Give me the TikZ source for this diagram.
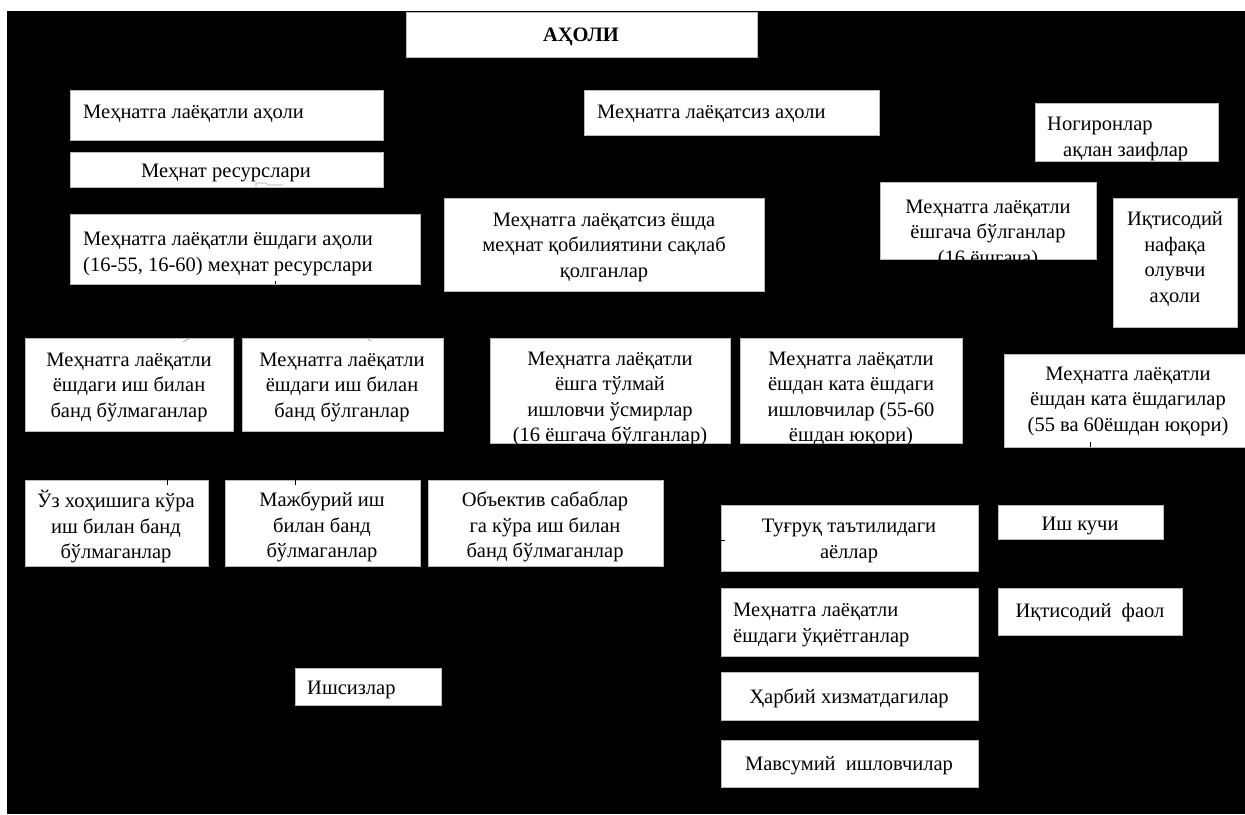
\documentclass[tikz,border=0pt]{standalone}
\usepackage{fontspec}
\setmainfont{Liberation Serif}
\begin{document}
\begin{tikzpicture}[x=1pt,y=-1pt,
  box/.style={draw=gray!55, fill=white, line width=0.7pt, inner sep=0pt, outer sep=0pt},
  txt/.style={font=\fontsize{20.5}{25.5}\selectfont, inner sep=0pt, align=center, text=black, yshift=-4pt},
  tick/.style={draw=black, line width=0.8pt},
  frag/.style={draw=gray!70, line width=0.7pt}]
\useasboundingbox (0,0) rectangle (1245,814);
\fill[white] (0,0) rectangle (1245,814);
\fill[black] (7,11) rectangle (1245,814);
\newcommand\bx[5]{\node[box, anchor=north west, minimum width=#4pt, minimum height=#5pt] (#1) at (#2,#3) {};}
% boxes
\bx{b1}{406}{12}{351}{45}
\bx{b2}{70}{90}{313}{50}
\bx{b3}{70}{152}{313}{35}
\bx{b4}{584}{90}{295}{45}
\bx{b5}{1035}{103}{183}{58}
\bx{b6}{880}{182}{216}{77}
\bx{b7}{1113}{198}{124}{129}
\bx{b8}{70}{214}{350}{70}
\bx{b9}{444}{198}{320}{93}
\bx{b10}{25}{338}{208}{93}
\bx{b11}{242}{338}{201}{93}
\bx{b12}{490}{338}{240}{105}
\bx{b13}{740}{338}{222}{105}
\bx{b14}{1004}{354}{250}{93}
\bx{b15}{25}{480}{183}{86}
\bx{b16}{225}{480}{195}{86}
\bx{b17}{428}{480}{235}{86}
\bx{b18}{721}{505}{257}{66}
\bx{b19}{998}{505}{165}{34}
\bx{b20}{721}{588}{257}{68}
\bx{b21}{998}{588}{184}{47}
\bx{b22}{721}{672}{257}{48}
\bx{b23}{721}{740}{257}{47}
\bx{b24}{295}{668}{146}{37}
% texts
\node[txt, font=\fontsize{20.5}{25.5}\selectfont\bfseries] (t1) at (581,33) {АҲОЛИ};
\node[txt, anchor=west] (t2) at (83,110) {Меҳнатга лаёқатли аҳоли};
\node[txt] (t3) at (226,169) {Меҳнат ресурслари};
\node[txt, anchor=west] (t4) at (597,110) {Меҳнатга лаёқатсиз аҳоли};
\node[txt, anchor=west, align=left] (t5) at (1047,135) {Ногиронлар\\\hspace*{16pt}ақлан заифлар};
\node[txt] (t6) at (988,230) {Меҳнатга лаёқатли\\ёшгача бўлганлар\\(16 ёшгача)};
\node[txt] (t7) at (1175,255) {Иқтисодий\\нафақа\\олувчи\\аҳоли};
\node[txt, anchor=west, align=left] (t8) at (83,250) {Меҳнатга лаёқатли ёшдаги аҳоли\\(16-55, 16-60) меҳнат ресурслари};
\node[txt] (t9) at (604,243) {Меҳнатга лаёқатсиз ёшда\\меҳнат қобилиятини сақлаб\\қолганлар};
\node[txt] (t10) at (129,383) {Меҳнатга лаёқатли\\ёшдаги иш билан\\банд бўлмаганлар};
\node[txt] (t11) at (342,383) {Меҳнатга лаёқатли\\ёшдаги иш билан\\банд бўлганлар};
\node[txt] (t12) at (610,395) {Меҳнатга лаёқатли\\ёшга тўлмай\\ишловчи ўсмирлар\\(16 ёшгача бўлганлар)};
\node[txt] (t13) at (851,395) {Меҳнатга лаёқатли\\ёшдан ката ёшдаги\\ишловчилар (55-60\\ёшдан юқори)};
\node[txt] (t14) at (1128,397) {Меҳнатга лаёқатли\\ёшдан ката ёшдагилар\\(55 ва 60ёшдан юқори)};
\node[txt] (t15) at (116,523) {Ўз хоҳишига кўра\\иш билан банд\\бўлмаганлар};
\node[txt] (t16) at (322,523) {Мажбурий иш\\билан банд\\бўлмаганлар};
\node[txt] (t17) at (545,523) {Объектив сабаблар\\га кўра иш билан\\банд бўлмаганлар};
\node[txt] (t18) at (849,537) {Туғруқ таътилидаги\\аёллар};
\node[txt] (t19) at (1080,522) {Иш кучи};
\node[txt, anchor=west, align=left] (t20) at (733,621) {Меҳнатга лаёқатли\\ёшдаги ўқиётганлар};
\node[txt] (t21) at (1090,609) {Иқтисодий\ \ фаол};
\node[txt] (t22) at (849,694) {Ҳарбий хизматдагилар};
\node[txt] (t23) at (849,762) {Мавсумий\ \ ишловчилар};
\node[txt, anchor=west] (t24) at (307,686) {Ишсизлар};
% connector remnants visible on the boxes
\draw[frag] ([xshift=186pt]b3.south west) -- ++(0,-4) -- ++(10,0) -- ++(2,2) -- ++(15,0);
\draw[tick] ([xshift=205pt]b8.south west) -- ++(0,-3);
\draw[tick] ([xshift=86pt]b14.south west) -- ++(0,-5);
\draw[tick] ([xshift=142pt]b15.north west) -- ++(0,5);
\draw[tick] ([xshift=70pt]b16.north west) -- ++(0,5);
\draw[tick] ([yshift=-35pt]b18.north west) -- ++(4,0);
\draw[frag] ([xshift=165pt]b10.north west) -- ++(-7,4);
\draw[frag] ([xshift=125pt]b11.north west) -- ++(4,3);
\end{tikzpicture}
\end{document}
